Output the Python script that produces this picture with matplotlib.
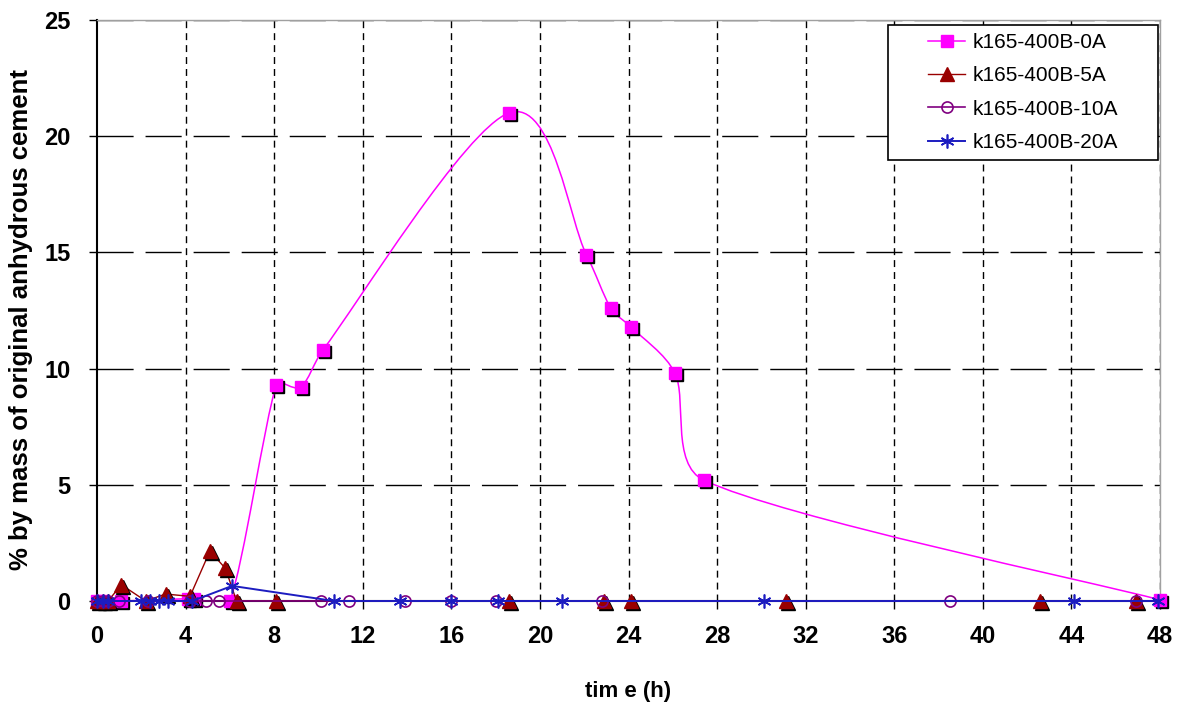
import numpy as np
import matplotlib
matplotlib.use("Agg")
from matplotlib import pyplot as plt
from matplotlib.path import Path
from matplotlib.patches import PathPatch, Rectangle
from matplotlib.lines import Line2D
from matplotlib.transforms import ScaledTranslation

plt.rcParams['font.family'] = ['Liberation Sans', 'DejaVu Sans']

# series data (time in h, % by mass)
t_0A = [0, 0.25, 1.1, 4.1, 4.4, 6.0, 8.1, 9.2, 10.2, 18.6, 22.1, 23.2, 24.1, 26.1, 27.4, 48.0]
v_0A = [0, 0, 0, 0.1, 0.1, 0, 9.3, 9.2, 10.8, 21.0, 14.9, 12.6, 11.8, 9.8, 5.2, 0.05]

t_5A = [0, 0.25, 0.5, 1.1, 2.2, 3.1, 4.2, 5.1, 5.8, 6.3, 8.1, 18.6, 22.9, 24.1, 31.1, 42.6, 46.9]
v_5A = [0, 0, 0, 0.7, 0, 0.3, 0.2, 2.15, 1.4, 0, 0, 0, 0, 0, 0, 0, 0]

t_10A = [0, 0.25, 0.5, 1.0, 2.3, 4.2, 4.9, 5.5, 10.1, 11.4, 13.9, 16.0, 18.0, 22.8, 38.5, 46.9]
v_10A = [0] * len(t_10A)

t_20A = [0, 0.25, 0.5, 2.0, 2.4, 2.8, 3.2, 4.3, 6.1, 10.7, 13.7, 16.0, 18.1, 21.0, 30.1, 44.1, 47.9]
v_20A = [0, 0, 0, 0, 0, 0, 0, 0, 0.65, 0, 0, 0, 0, 0, 0, 0, 0]

labels = ['k165-400B-0A', 'k165-400B-5A', 'k165-400B-10A', 'k165-400B-20A']

x_ticks = list(range(0, 49, 4))
y_ticks = [0, 5, 10, 15, 20, 25]

W, H = 1178, 704
ax_box = [97, 20, 1160, 601]    # left, top, right, bottom in pixels
leg_box = [888, 25, 1158, 160]  # legend frame in pixels


def smooth_path(x, y, sx, sy):
    # bezier path through the points, roughly like excel's smoothed line
    pts = np.column_stack([np.asarray(x) * sx, np.asarray(y) * sy]).astype(float)
    n = len(pts)
    verts = [pts[0]]
    codes = [Path.MOVETO]

    def ctrl(v, seg):
        # catmull-rom tangent, but never longer than a third of the segment
        d = np.hypot(*v)
        if d == 0:
            return v
        return v / d * min(d, seg / 3)

    for i in range(n - 1):
        p0 = pts[i - 1] if i > 0 else pts[i]
        p1 = pts[i]
        p2 = pts[i + 1]
        p3 = pts[i + 2] if i + 2 < n else pts[i + 1]
        seg = np.hypot(*(p2 - p1))
        c1 = p1 + ctrl((p2 - p0) / 6, seg)
        c2 = p2 - ctrl((p3 - p1) / 6, seg)
        verts += [c1, c2, p2]
        codes += [Path.CURVE4] * 3
    verts = np.array(verts) / [sx, sy]
    return Path(verts, codes)


fig = plt.figure(figsize=(W / 100, H / 100), dpi=100)
ax = fig.add_axes([ax_box[0] / W, 1 - ax_box[3] / H, (ax_box[2] - ax_box[0]) / W, (ax_box[3] - ax_box[1]) / H])
ax.set_xlim(0, 48)
ax.set_ylim(0, 25)
sx = (ax_box[2] - ax_box[0]) / 48
sy = (ax_box[3] - ax_box[1]) / 25

shadow = ax.transData + ScaledTranslation(2 / 100, -2 / 100, fig.dpi_scale_trans)

pink = '#ff00ff'
red = '#990000'
purple = '#800080'
blue = '#1c1cc0'

# 0A - smoothed line with square markers
ax.add_patch(PathPatch(smooth_path(t_0A, v_0A, sx, sy), fill=False, edgecolor=pink, lw=1.1, zorder=3))
ax.plot(t_0A, v_0A, ls='none', marker='s', ms=9, color='black', transform=shadow, clip_on=False, zorder=3)
ax.plot(t_0A, v_0A, ls='none', marker='s', ms=9, color=pink, clip_on=False, zorder=3)

# 5A
ax.plot(t_5A, v_5A, color=red, lw=1.0, zorder=4)
ax.plot(t_5A, v_5A, ls='none', marker='^', ms=10, color='black', transform=shadow, clip_on=False, zorder=4)
ax.plot(t_5A, v_5A, ls='none', marker='^', ms=10, color=red, clip_on=False, zorder=4)

# 10A
ax.plot(t_10A, v_10A, color=purple, lw=1.2, marker='o', ms=8, mfc='none', mec=purple, mew=1.2,
        clip_on=False, zorder=5)

# 20A
ax.plot(t_20A, v_20A, color=blue, lw=1.4, marker=(6, 2, 0), ms=10, mec=blue, mew=1.2,
        clip_on=False, zorder=6)

ax.set_xticks(x_ticks)
ax.set_yticks(y_ticks)
ax.tick_params(axis='both', direction='out', length=6, width=1, labelsize=17)
ax.tick_params(axis='x', pad=11)
ax.tick_params(axis='y', pad=13)
for lab in ax.get_xticklabels() + ax.get_yticklabels():
    lab.set_fontweight('bold')

# gridlines
for x in x_ticks[1:]:
    ax.axvline(x, color='black', lw=1, ls=(0, (5, 3.6)), zorder=1)
for y in y_ticks[1:]:
    ax.axhline(y, color='black', lw=1, ls=(0, (26, 8.6)), zorder=1)

for s in ['left', 'bottom']:
    ax.spines[s].set_linewidth(1.5)
    ax.spines[s].set_zorder(2)
for s in ['top', 'right']:
    ax.spines[s].set_color('#a0a0a0')
    ax.spines[s].set_linewidth(1)

ax.set_xlabel('tim e (h)', fontsize=16, fontweight='bold', labelpad=24)
ax.set_ylabel('% by mass of original anhydrous cement', fontsize=18.5, fontweight='bold')
ax.yaxis.set_label_coords((33 - ax_box[0]) / (ax_box[2] - ax_box[0]),
                          (ax_box[3] - 319) / (ax_box[3] - ax_box[1]))

# legend: frame drawn separately so the side padding can match the reference
fig.patches.append(Rectangle((leg_box[0] / W, 1 - leg_box[3] / H), (leg_box[2] - leg_box[0]) / W,
                             (leg_box[3] - leg_box[1]) / H, transform=fig.transFigure,
                             facecolor='white', edgecolor='black', lw=1.2, zorder=9))
handles = [
    Line2D([], [], color=pink, lw=1.1, marker='s', ms=9),
    Line2D([], [], color=red, lw=1.0, marker='^', ms=10),
    Line2D([], [], color=purple, lw=1.2, marker='o', ms=8, mfc='none', mew=1.2),
    Line2D([], [], color=blue, lw=1.4, marker=(6, 2, 0), ms=10, mew=1.2),
]
leg = fig.legend(handles, labels, loc='center',
                 bbox_to_anchor=((leg_box[0] + leg_box[2]) / 2 / W, 1 - (leg_box[1] + leg_box[3]) / 2 / H),
                 fontsize=15, frameon=False, handlelength=1.8, labelspacing=0.69,
                 borderpad=0, handletextpad=0.35, borderaxespad=0)
leg.set_zorder(10)

fig.savefig('out.png', dpi=100)
